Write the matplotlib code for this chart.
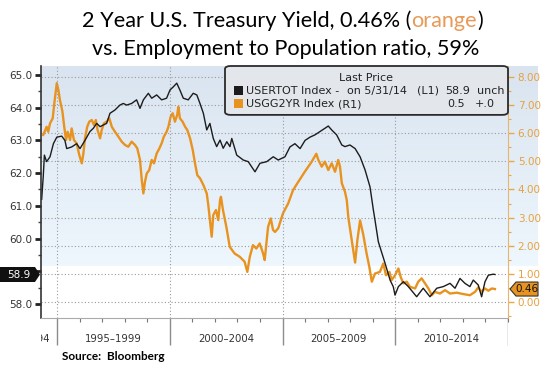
import numpy as np
import matplotlib.pyplot as plt
import matplotlib.transforms as mtransforms
from matplotlib.colors import LinearSegmentedColormap
from matplotlib.patches import Polygon, FancyBboxPatch, Rectangle
from matplotlib.ticker import MultipleLocator

# USERTOT Index (employment to population ratio, %)
emp_year = [1994.32, 1994.39, 1994.44, 1994.54, 1994.69, 1994.84, 1994.99, 1995.21, 1995.35, 1995.43,
            1995.65, 1995.87, 1996.02, 1996.24, 1996.46, 1996.61, 1996.76, 1996.91, 1997.05, 1997.20,
            1997.35, 1997.57, 1997.79, 1997.94, 1998.09, 1998.31, 1998.53, 1998.68, 1998.83, 1999.05,
            1999.20, 1999.42, 1999.64, 1999.86, 2000.01, 2000.16, 2000.31, 2000.45, 2000.60, 2000.82,
            2001.04, 2001.20, 2001.34, 2001.49, 2001.64, 2001.78, 2001.93, 2002.08, 2002.23, 2002.37,
            2002.53, 2002.67, 2002.75, 2002.97, 2003.26, 2003.48, 2003.78, 2004.00, 2004.30, 2004.59,
            2004.81, 2005.11, 2005.33, 2005.55, 2005.78, 2006.00, 2006.22, 2006.44, 2006.66, 2006.88,
            2007.03, 2007.18, 2007.40, 2007.63, 2007.77, 2007.99, 2008.22, 2008.44, 2008.66, 2008.88,
            2009.03, 2009.10, 2009.25, 2009.55, 2009.77, 2009.91, 2009.99, 2010.14, 2010.36, 2010.58,
            2010.95, 2011.24, 2011.54, 2011.84, 2012.13, 2012.43, 2012.65, 2012.87, 2013.09, 2013.31,
            2013.46, 2013.68, 2013.83, 2013.98, 2014.13, 2014.35, 2014.42]
emp_value = [61.2, 61.9, 62.55, 62.35, 62.5, 62.9, 63.1, 63.13, 63.0, 62.75,
             62.8, 62.9, 62.75, 63.0, 63.27, 63.37, 63.52, 63.42, 63.47, 63.52,
             63.83, 63.93, 64.08, 64.13, 64.08, 64.13, 64.24, 63.98, 64.24, 64.44,
             64.29, 64.39, 64.24, 64.29, 64.54, 64.64, 64.75, 64.54, 64.29, 64.24,
             64.44, 64.39, 64.13, 63.83, 63.32, 63.52, 63.06, 62.81, 63.01, 62.76,
             62.96, 62.81, 63.06, 62.55, 62.4, 62.35, 62.04, 62.3, 62.35, 62.5,
             62.4, 62.5, 62.8, 62.9, 62.75, 63.0, 63.1, 63.17, 63.27, 63.37,
             63.44, 63.32, 63.17, 62.86, 62.81, 62.86, 62.75, 62.5, 62.1, 61.58,
             60.87, 60.57, 59.9, 59.24, 58.73, 58.53, 58.27, 58.53, 58.68, 58.53,
             58.22, 58.48, 58.22, 58.48, 58.53, 58.63, 58.48, 58.78, 58.63, 58.53,
             58.73, 58.58, 58.22, 58.68, 58.88, 58.91, 58.9]

# USGG2YR Index (2 year treasury yield, %)
yield_year = [1994.39, 1994.54, 1994.61, 1994.69, 1994.81, 1994.88, 1994.99, 1995.06, 1995.13, 1995.24,
              1995.32, 1995.40, 1995.47, 1995.58, 1995.65, 1995.75, 1995.87, 1995.99, 1996.10, 1996.17,
              1996.24, 1996.34, 1996.43, 1996.54, 1996.64, 1996.72, 1996.80, 1996.91, 1996.98, 1997.08,
              1997.20, 1997.32, 1997.43, 1997.57, 1997.72, 1997.87, 1998.02, 1998.16, 1998.31, 1998.46,
              1998.56, 1998.68, 1998.76, 1998.83, 1998.90, 1998.98, 1999.09, 1999.20, 1999.30, 1999.42,
              1999.54, 1999.64, 1999.74, 1999.86, 1999.94, 2000.04, 2000.13, 2000.23, 2000.33, 2000.38,
              2000.45, 2000.57, 2000.68, 2000.78, 2000.90, 2001.02, 2001.12, 2001.22, 2001.34, 2001.49,
              2001.64, 2001.71, 2001.78, 2001.86, 2001.93, 2002.05, 2002.15, 2002.23, 2002.27, 2002.36,
              2002.51, 2002.66, 2002.88, 2003.10, 2003.32, 2003.44, 2003.55, 2003.69, 2003.84, 2003.99,
              2004.14, 2004.21, 2004.36, 2004.48, 2004.58, 2004.67, 2004.81, 2005.02, 2005.25, 2005.47,
              2005.69, 2005.98, 2006.28, 2006.50, 2006.59, 2006.74, 2006.88, 2007.03, 2007.18, 2007.33,
              2007.47, 2007.55, 2007.63, 2007.77, 2007.85, 2007.92, 2008.07, 2008.22, 2008.32, 2008.44,
              2008.58, 2008.73, 2008.85, 2008.96, 2009.10, 2009.32, 2009.47, 2009.59, 2009.74, 2009.84,
              2009.99, 2010.14, 2010.24, 2010.36, 2010.51, 2010.65, 2010.88, 2011.02, 2011.17, 2011.32,
              2011.47, 2011.62, 2011.76, 2011.98, 2012.21, 2012.43, 2012.73, 2013.02, 2013.31, 2013.54,
              2013.68, 2013.83, 2013.98, 2014.13, 2014.28, 2014.42]
yield_value = [5.94, 6.23, 6.05, 6.35, 6.53, 7.06, 7.78, 7.54, 7.18, 6.77,
               6.23, 5.76, 6.05, 5.76, 6.17, 5.76, 5.64, 5.22, 4.93, 5.28,
               5.82, 6.23, 6.41, 6.47, 6.29, 6.47, 6.11, 5.82, 6.11, 6.35,
               6.41, 6.53, 6.23, 6.05, 5.88, 5.70, 5.58, 5.52, 5.70, 5.58,
               5.46, 5.05, 4.33, 3.86, 4.27, 4.57, 4.69, 5.05, 4.93, 5.28,
               5.46, 5.64, 5.88, 6.05, 6.23, 6.59, 6.71, 6.41, 6.65, 6.94,
               6.53, 6.41, 6.23, 6.11, 5.82, 5.40, 4.93, 4.51, 4.40, 4.16,
               3.86, 3.44, 2.91, 2.32, 3.09, 3.27, 2.91, 3.62, 3.74, 3.27,
               2.67, 1.96, 1.72, 1.61, 1.43, 1.07, 1.61, 2.02, 1.90, 2.08,
               1.72, 1.49, 2.67, 2.97, 2.56, 2.49, 2.62, 3.15, 3.50, 3.98,
               4.26, 4.62, 4.97, 5.27, 5.05, 4.81, 4.99, 4.69, 4.93, 4.63,
               5.05, 4.81, 4.22, 3.92, 3.62, 3.00, 2.20, 1.40, 2.20, 2.90,
               2.40, 1.72, 1.25, 0.72, 1.01, 1.07, 1.37, 0.95, 1.07, 0.78,
               0.95, 1.19, 0.89, 0.66, 0.72, 0.54, 0.48, 0.72, 0.84, 0.66,
               0.48, 0.24, 0.36, 0.30, 0.42, 0.30, 0.33, 0.28, 0.24, 0.36,
               0.52, 0.36, 0.48, 0.40, 0.48, 0.46]

left_ticks = [58.0, 59.0, 60.0, 61.0, 62.0, 63.0, 64.0, 65.0]
right_ticks = [0, 1, 2, 3, 4, 5, 6, 7, 8]
period_starts = [1990, 1995, 2000, 2005, 2010]
last_emp = 58.9
last_yield = 0.46

BLACK = '#1c1c1c'
ORANGE = '#e8931f'
ORANGE_TXT = '#e6a13f'
W, H = 547, 368


def fx(px):
    return px / W


def fy(py):
    return 1 - py / H


fig = plt.figure(figsize=(W / 100, H / 100), dpi=100)

# light blue band behind the upper part of the plot
bg = fig.add_axes([fx(41), fy(266), fx(538) - fx(41), fy(66) - fy(266)], zorder=-5)
cmap = LinearSegmentedColormap.from_list('band', ['#dae4f0', '#eef7fd'])
bg.imshow(np.linspace(0, 1, 100).reshape(-1, 1), aspect='auto', cmap=cmap,
          extent=[0, 1, 0, 1])
bg.axis('off')

ax = fig.add_axes([fx(41), fy(318), fx(508) - fx(41), fy(66) - fy(318)])
ax2 = ax.twinx()
ax.set_zorder(3)
ax2.set_zorder(2)
ax.patch.set_visible(False)
ax2.patch.set_visible(False)

ax2.plot(yield_year, yield_value, color=ORANGE, lw=1.7)
ax.plot(emp_year, emp_value, color=BLACK, lw=1.0)

x_min, x_max = 1994.29, 2015.0
ax.set_xlim(x_min, x_max)
ax.set_ylim(57.57, 65.275)
ax2.set_ylim(-0.57, 8.39)

for s in ['top', 'right']:
    ax.spines[s].set_visible(False)
ax.spines['left'].set_color('#333333')
ax.spines['left'].set_linewidth(1.2)
ax.spines['bottom'].set_color('#aaaaaa')
for s in ['top', 'left', 'bottom']:
    ax2.spines[s].set_visible(False)
ax2.spines['right'].set_color('#e9b46c')

# 59.0 sits under the last value tag, so it gets no label
ax.set_yticks(left_ticks)
ax.set_yticklabels(['' if v == 59.0 else f'{v:.1f}' for v in left_ticks])
ax.yaxis.set_minor_locator(MultipleLocator(0.5))
ax.tick_params(axis='y', which='major', direction='out', length=4, width=2,
               color='#222222', labelsize=7.5, labelcolor='#333333', pad=2)
ax.tick_params(axis='y', which='minor', direction='out', length=2.5, width=1,
               color='#444444')
ax.set_xticks(period_starts[1:])
ax.xaxis.set_minor_locator(MultipleLocator(1))
ax.tick_params(axis='x', which='major', length=0, labelbottom=False)
ax.tick_params(axis='x', which='minor', length=3, width=0.8, color='#777777')
ax.grid(axis='x', which='major', ls=(0, (1, 2)), color='#9a9a9a', lw=0.8)

ax2.set_yticks(right_ticks)
ax2.set_yticklabels([f'{v:.2f}' for v in right_ticks])
ax2.yaxis.set_minor_locator(MultipleLocator(0.5))
ax2.tick_params(axis='y', which='major', length=4, width=1, color='#e8a848',
                labelsize=7.5, labelcolor=ORANGE_TXT, pad=3)
ax2.tick_params(axis='y', which='minor', length=2.5, width=0.8, color='#e8a848')
ax2.grid(axis='y', which='major', ls=(0, (1, 2)), color='#9a9a9a', lw=0.8)

# legend box, Bloomberg style
box = FancyBboxPatch((0.394, 0.806), 0.606, 0.194, boxstyle='round,pad=0,rounding_size=0.012',
                     transform=ax.transAxes, fc='#e3e7ec', ec='#2b2b2b', lw=1.3,
                     zorder=8, clip_on=False)
ax.add_artist(box)
leg = dict(transform=ax.transAxes, fontsize=8, color='#222222', va='center', zorder=9)
ax.text(0.696, 0.952, 'Last Price', ha='center', **leg)
ax.add_artist(Rectangle((0.413, 0.885), 0.0193, 0.0357, transform=ax.transAxes,
                        fc=BLACK, ec='none', zorder=9))
ax.add_artist(Rectangle((0.413, 0.833), 0.0193, 0.0357, transform=ax.transAxes,
                        fc=ORANGE, ec='none', zorder=9))
ax.text(0.439, 0.901, 'USERTOT Index -', **leg)
ax.text(0.655, 0.901, 'on 5/31/14', **leg)
ax.text(0.805, 0.901, '(L1)', **leg)
ax.text(0.865, 0.901, f'{last_emp}', **leg)
ax.text(0.934, 0.901, 'unch', **leg)
ax.text(0.439, 0.849, 'USGG2YR Index', **leg)
ax.text(0.636, 0.849, '(R1)', **leg)
ax.text(0.869, 0.849, '0.5', **leg)
ax.text(0.929, 0.849, '+.0', **leg)

# last value tags on both axes
t_left = fig.dpi_scale_trans + mtransforms.ScaledTranslation(0, last_emp, ax.get_yaxis_transform())
ax.add_artist(Polygon([(-0.41, -0.075), (-0.06, -0.075), (-0.01, 0), (-0.06, 0.075), (-0.41, 0.075)],
                      closed=True, transform=t_left, fc='#111111', ec='none',
                      clip_on=False, zorder=10))
ax.text(-0.22, 0, f'{last_emp}', transform=t_left, color='white', ha='center', va='center',
        fontsize=7.5, zorder=11, clip_on=False)

t_right = fig.dpi_scale_trans + mtransforms.ScaledTranslation(1, last_yield, ax2.get_yaxis_transform())
ax.add_artist(Polygon([(0.02, 0), (0.08, -0.07), (0.30, -0.07), (0.30, 0.07), (0.08, 0.07)],
                      closed=True, transform=t_right, fc=ORANGE, ec='#333333', lw=0.8,
                      clip_on=False, zorder=10))
ax.text(0.19, 0, f'{last_yield:.2f}', transform=t_right, color='#111111', ha='center',
        va='center', fontsize=7.5, zorder=11, clip_on=False)

# period labels under the x axis
lab = fig.add_axes([fx(41), fy(350), fx(508) - fx(41), fy(318) - fy(350)])
lab.set_xlim(x_min, x_max)
lab.set_ylim(0, 1)
lab.axis('off')
for start in period_starts:
    label = f'{start}\u2013{start + 4}'
    if start + 2.5 > x_min:
        lab.text(start + 2.5, 0.34, label, ha='center', va='center', fontsize=7.3,
                 color='#333333')
    else:
        # only the tail of the first period is visible
        lab.text(x_min + 0.4, 0.34, label, ha='right', va='center', fontsize=7.3,
                 color='#333333', clip_on=True)
lab.vlines(period_starts[1:] + [2015], 0.156, 1.0, colors='#8c8c8c', lw=1.0)

fig.text(fx(62), fy(357), 'Source:  Bloomberg', fontweight='bold', fontsize=8.5,
         family='Lato', va='center')

# two line title, the word orange in orange
tfont = dict(family='Lato', fontsize=15.6, va='bottom')
t1 = fig.text(fx(82), fy(31), '2 Year U.S. Treasury Yield, 0.46% (', color='black', **tfont)
t2 = ax.annotate('orange', xy=(1, 0), xycoords=t1, color='#e89a58', annotation_clip=False, **tfont)
t3 = ax.annotate(')', xy=(1, 0), xycoords=t2, color='black', annotation_clip=False, **tfont)
fig.text(fx(286), fy(59), 'vs. Employment to Population ratio, 59%', ha='center',
         color='black', **tfont)

fig.savefig('out.png', dpi=100)
